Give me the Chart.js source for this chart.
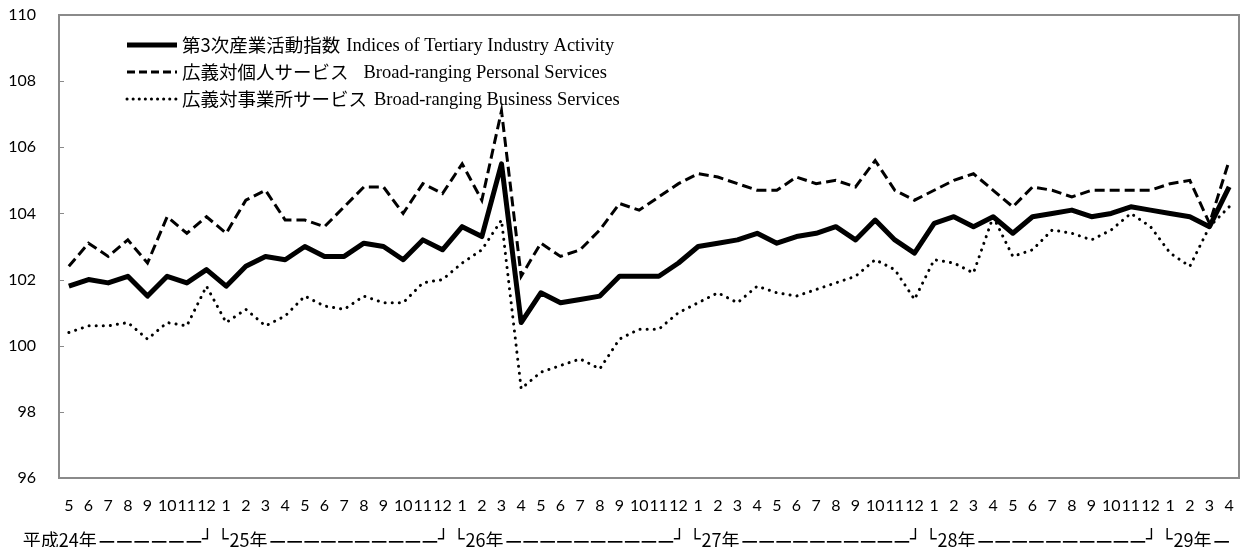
<!DOCTYPE html>
<html>
<head>
<meta charset="utf-8">
<title>第3次産業活動指数</title>
<script src="https://cdn.jsdelivr.net/npm/chart.js@4.4.1/dist/chart.umd.min.js"></script>
<style>
    html, body { margin: 0; padding: 0; background: #fff; }
    #chart { display: block; }
</style>
</head>
<body>
<canvas id="chart" width="1242" height="547"></canvas>
<script>
// Months, 平成24年5月 .. 平成29年4月
const months = [
    '5', '6', '7', '8', '9', '10', '11', '12',
    '1', '2', '3', '4', '5', '6', '7', '8', '9', '10', '11', '12',
    '1', '2', '3', '4', '5', '6', '7', '8', '9', '10', '11', '12',
    '1', '2', '3', '4', '5', '6', '7', '8', '9', '10', '11', '12',
    '1', '2', '3', '4', '5', '6', '7', '8', '9', '10', '11', '12',
    '1', '2', '3', '4'
];
const yearLabels = ['平成24年', '25年', '26年', '27年', '28年', '29年'];

const seriesJa = ['第3次産業活動指数', '広義対個人サービス', '広義対事業所サービス'];
const seriesEn = ['Indices of Tertiary Industry Activity', 'Broad-ranging Personal Services', 'Broad-ranging Business Services'];

const tertiaryIndex = [
    101.8, 102.0, 101.9, 102.1, 101.5, 102.1, 101.9, 102.3,
    101.8, 102.4, 102.7, 102.6, 103.0, 102.7, 102.7, 103.1, 103.0, 102.6, 103.2, 102.9,
    103.6, 103.3, 105.5, 100.7, 101.6, 101.3, 101.4, 101.5, 102.1, 102.1, 102.1, 102.5,
    103.0, 103.1, 103.2, 103.4, 103.1, 103.3, 103.4, 103.6, 103.2, 103.8, 103.2, 102.8,
    103.7, 103.9, 103.6, 103.9, 103.4, 103.9, 104.0, 104.1, 103.9, 104.0, 104.2, 104.1,
    104.0, 103.9, 103.6, 104.8
];
const personalServices = [
    102.4, 103.1, 102.7, 103.2, 102.5, 103.9, 103.4, 103.9,
    103.4, 104.4, 104.7, 103.8, 103.8, 103.6, 104.2, 104.8, 104.8, 104.0, 104.9, 104.6,
    105.5, 104.4, 107.1, 102.1, 103.1, 102.7, 102.9, 103.5, 104.3, 104.1, 104.5, 104.9,
    105.2, 105.1, 104.9, 104.7, 104.7, 105.1, 104.9, 105.0, 104.8, 105.6, 104.7, 104.4,
    104.7, 105.0, 105.2, 104.7, 104.2, 104.8, 104.7, 104.5, 104.7, 104.7, 104.7, 104.7,
    104.9, 105.0, 103.7, 105.6
];
const businessServices = [
    100.4, 100.6, 100.6, 100.7, 100.2, 100.7, 100.6, 101.8,
    100.7, 101.1, 100.6, 100.9, 101.5, 101.2, 101.1, 101.5, 101.3, 101.3, 101.9, 102.0,
    102.5, 102.9, 103.8, 98.7, 99.2, 99.4, 99.6, 99.3, 100.2, 100.5, 100.5, 101.0,
    101.3, 101.6, 101.3, 101.8, 101.6, 101.5, 101.7, 101.9, 102.1, 102.6, 102.3, 101.4,
    102.6, 102.5, 102.2, 103.9, 102.7, 102.9, 103.5, 103.4, 103.2, 103.5, 104.0, 103.6,
    102.8, 102.4, 103.6, 104.2
];

const JP_FONT = '"Noto Sans CJK JP", "Noto Sans", sans-serif';
const EN_FONT = '"Liberation Serif", "DejaVu Serif", serif';
const TICK_FONT = 'Lato, "Noto Sans", sans-serif';
const BOX_FONT = '"DejaVu Sans", sans-serif';

// Legend line samples (a bit shorter dashes than in the plot)
const legendStyles = [
    { width: 5, dash: [], cap: 'butt' },
    { width: 3, dash: [8, 4], cap: 'butt' },
    { width: 3, dash: [0.1, 6], cap: 'round' }
];

// Box around the plot area + short inner ticks on the y axis
const frame = {
    id: 'frame',
    afterDatasetsDraw(chart) {
        const { ctx, chartArea: a, scales } = chart;
        ctx.save();
        ctx.strokeStyle = '#8a8a8a';
        ctx.lineWidth = 2;
        ctx.setLineDash([]);
        ctx.strokeRect(a.left, a.top, a.right - a.left, a.bottom - a.top);
        ctx.lineWidth = 1;
        scales.y.ticks.forEach(t => {
            const y = Math.round(scales.y.getPixelForValue(t.value)) + 0.5;
            ctx.beginPath();
            ctx.moveTo(a.left, y);
            ctx.lineTo(a.left + 5, y);
            ctx.stroke();
        });
        ctx.restore();
    }
};

// Mixed-font legend inside the plot (Japanese gothic + English serif)
const mixedLegend = {
    id: 'mixedLegend',
    afterDraw(chart) {
        const { ctx, chartArea: a } = chart;
        const gaps = [6, 15, 7];
        ctx.save();
        chart.data.datasets.forEach((ds, i) => {
            const y = a.top + 30 + i * 27;
            const st = legendStyles[i];
            ctx.strokeStyle = '#000';
            ctx.lineWidth = st.width;
            ctx.lineCap = st.cap;
            ctx.setLineDash(st.dash);
            ctx.beginPath();
            ctx.moveTo(a.left + 68, y);
            ctx.lineTo(a.left + 118, y);
            ctx.stroke();

            ctx.fillStyle = '#000';
            ctx.textBaseline = 'middle';
            ctx.textAlign = 'left';
            ctx.font = '18.5px ' + JP_FONT;
            const tx = a.left + 123;
            ctx.fillText(seriesJa[i], tx, y);
            const w = ctx.measureText(seriesJa[i]).width;
            ctx.font = '18.5px ' + EN_FONT;
            ctx.fillText(seriesEn[i], tx + w + gaps[i], y + 1);
        });
        ctx.restore();
    }
};

// Year row under the month labels: 平成24年———┘ └25年———┘ ...
const yearRow = {
    id: 'yearRow',
    afterDraw(chart) {
        const ctx = chart.ctx;
        const xs = chart.scales.x;
        const y = 540;
        ctx.save();
        ctx.fillStyle = '#000';
        ctx.textBaseline = 'middle';

        const starts = [0];
        const ends = [];
        months.forEach((m, i) => {
            if (i > 0 && m === '1') starts.push(i);
            if (m === '12') ends.push(i);
        });

        starts.forEach((s, k) => {
            let cx;
            ctx.font = '18px ' + JP_FONT;
            ctx.textAlign = 'left';
            if (k === 0) {
                cx = xs.getPixelForValue(s) - 46;
            } else {
                // corner mark, its vertical stroke just left of month 1
                const cornerX = xs.getPixelForValue(s) - 3;
                ctx.font = '18px ' + BOX_FONT;
                ctx.textAlign = 'center';
                ctx.fillText('└', cornerX, y);
                cx = cornerX + ctx.measureText('└').width / 2 + 1;
                ctx.font = '18px ' + JP_FONT;
                ctx.textAlign = 'left';
            }
            ctx.fillText(yearLabels[k], cx, y);
            cx += ctx.measureText(yearLabels[k]).width + 2;

            ctx.font = 'bold 18px ' + JP_FONT;
            const dash = '—';
            const dw = ctx.measureText(dash).width;
            if (k < ends.length) {
                const endX = xs.getPixelForValue(ends[k]) + 1;
                ctx.font = '18px ' + BOX_FONT;
                const half = ctx.measureText('┘').width / 2;
                ctx.textAlign = 'center';
                ctx.fillText('┘', endX, y);
                ctx.font = 'bold 18px ' + JP_FONT;
                ctx.textAlign = 'left';
                const avail = endX - half - cx;
                const n = Math.max(1, Math.round(avail / dw));
                const step = (avail - dw) / Math.max(1, n - 1);
                for (let j = 0; j < n; j++) {
                    ctx.fillText(dash, cx + j * step, y);
                }
            } else {
                ctx.fillText(dash, cx, y);
            }
        });
        ctx.restore();
    }
};

new Chart(document.getElementById('chart'), {
    type: 'line',
    data: {
        labels: months,
        datasets: [{
            label: seriesJa[0],
            data: tertiaryIndex,
            borderColor: '#000',
            borderWidth: 5,
            borderJoinStyle: 'round'
        }, {
            label: seriesJa[1],
            data: personalServices,
            borderColor: '#000',
            borderWidth: 3,
            borderDash: [10, 5]
        }, {
            label: seriesJa[2],
            data: businessServices,
            borderColor: '#000',
            borderWidth: 3,
            borderDash: [0.1, 7],
            borderCapStyle: 'round'
        }]
    },
    options: {
        responsive: false,
        animation: false,
        layout: { padding: { top: 15, right: 3, left: 0, bottom: 0 } },
        elements: {
            point: { radius: 0, hoverRadius: 0 },
            line: { tension: 0, fill: false }
        },
        plugins: {
            legend: { display: false },
            tooltip: { enabled: false }
        },
        scales: {
            x: {
                offset: true,
                grid: { display: false, drawTicks: false },
                border: { display: false },
                ticks: {
                    autoSkip: false,
                    maxRotation: 0,
                    minRotation: 0,
                    padding: 18,
                    color: '#000',
                    font: { family: TICK_FONT, size: 16 }
                },
                afterFit: (scale) => {
                    scale.height = 69;
                    scale.paddingLeft = 0;
                    scale.paddingRight = 0;
                }
            },
            y: {
                min: 96,
                max: 110,
                grid: { display: false, drawTicks: false },
                border: { display: false },
                ticks: {
                    stepSize: 2,
                    padding: 23,
                    color: '#000',
                    font: { family: TICK_FONT, size: 16 }
                },
                afterFit: (scale) => {
                    scale.width = 59;
                    scale.paddingTop = 0;
                    scale.paddingBottom = 0;
                }
            }
        }
    },
    plugins: [frame, mixedLegend, yearRow]
});
</script>
</body>
</html>
